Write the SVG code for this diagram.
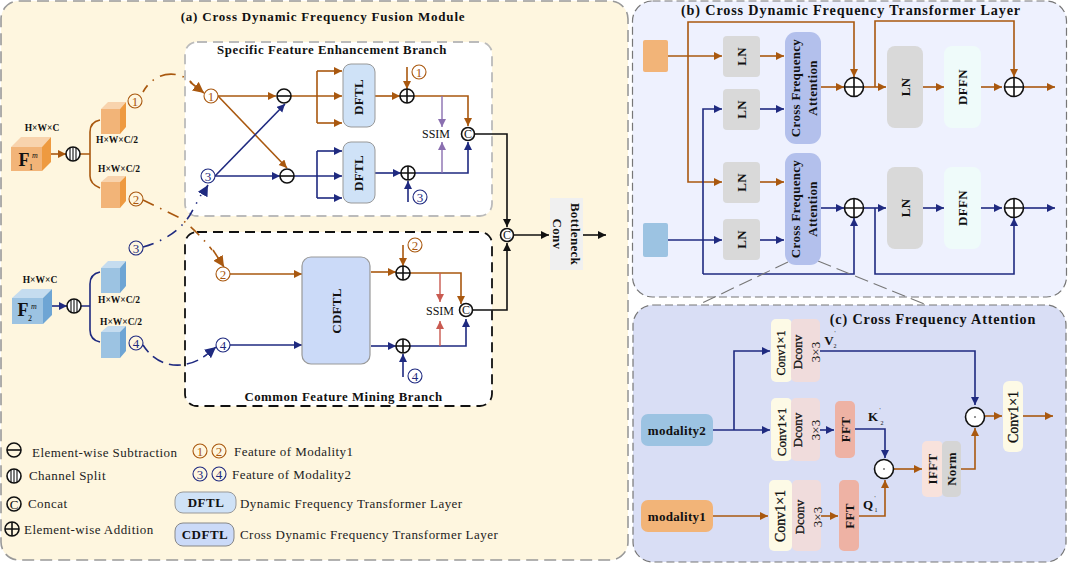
<svg xmlns="http://www.w3.org/2000/svg" width="1068" height="563" viewBox="0 0 1068 563">
<style>
text{font-family:"Liberation Serif","Times New Roman",serif;fill:#111;text-anchor:middle;dominant-baseline:central}
.b{font-weight:bold}.t{font-size:13px;font-weight:bold;letter-spacing:.8px}.t2{font-size:14.2px;font-weight:bold;letter-spacing:.85px}.t3{font-size:12.8px;font-weight:bold;letter-spacing:.55px}
.l{font-size:13px;text-anchor:start;letter-spacing:.45px;fill:#222}
.d{font-size:9.5px;font-weight:bold}
.or{fill:none;stroke:#a9580f;stroke-width:1.6;marker-end:url(#ao)}
.nv{fill:none;stroke:#1f2a80;stroke-width:1.6;marker-end:url(#an)}
.orl{fill:none;stroke:#a9580f;stroke-width:1.6}.nvl{fill:none;stroke:#1f2a80;stroke-width:1.6}
.bk{fill:none;stroke:#111;stroke-width:1.6;marker-end:url(#ak)}
.pu{fill:none;stroke:#8a6fb0;stroke-width:1.4;marker-end:url(#ap)}
.re{fill:none;stroke:#c95a50;stroke-width:1.4;marker-end:url(#ar)}
.dd{stroke-dasharray:16 7 1.5 7;stroke-dashoffset:8}
.op{fill:#fff;stroke:#111;stroke-width:1.6}.opl{stroke:#111;stroke-width:1.6;fill:none}
.co{fill:none;stroke:#a9580f;stroke-width:1.1}.cn{fill:none;stroke:#1f2a80;stroke-width:1.1}
.no{font-size:13px;fill:#a9580f}.nn{font-size:13px;fill:#1f2a80}
.ln{fill:#d9d9d9}.cfa{fill:#b3c0ec}.dffn{fill:#effbfa}.y{fill:#fdfae6}.p{fill:#f0dcdc}.f{fill:#eeb2a4}
.rt{font-size:13px;font-weight:bold;letter-spacing:.3px}
.rn{font-size:13px;stroke:#111;stroke-width:.3}
.nr{font-size:13px}
</style>
<defs>
<marker id="ao" markerUnits="userSpaceOnUse" markerWidth="10" markerHeight="10" refX="8" refY="4" orient="auto"><path d="M0,0L8,4L0,8z" fill="#a9580f"/></marker>
<marker id="an" markerUnits="userSpaceOnUse" markerWidth="10" markerHeight="10" refX="8" refY="4" orient="auto"><path d="M0,0L8,4L0,8z" fill="#1f2a80"/></marker>
<marker id="ak" markerUnits="userSpaceOnUse" markerWidth="10" markerHeight="10" refX="8" refY="4" orient="auto"><path d="M0,0L8,4L0,8z" fill="#111"/></marker>
<marker id="ap" markerUnits="userSpaceOnUse" markerWidth="10" markerHeight="10" refX="8" refY="4" orient="auto"><path d="M0,0L8,4L0,8z" fill="#8a6fb0"/></marker>
<marker id="ar" markerUnits="userSpaceOnUse" markerWidth="10" markerHeight="10" refX="8" refY="4" orient="auto"><path d="M0,0L8,4L0,8z" fill="#c95a50"/></marker>
<marker id="aob" markerUnits="userSpaceOnUse" markerWidth="14" markerHeight="14" refX="11" refY="5.5" orient="auto"><path d="M0,0L11,5.5L0,11z" fill="#a9580f"/></marker>
<marker id="anb" markerUnits="userSpaceOnUse" markerWidth="14" markerHeight="14" refX="11" refY="5.5" orient="auto"><path d="M0,0L11,5.5L0,11z" fill="#1f2a80"/></marker>
<g id="splitSym"><circle r="7" class="op"/><path d="M-3,-6.3V6.3M0,-7V7M3,-6.3V6.3" class="opl" style="stroke-width:1.1"/></g>
<g id="minusSym"><circle r="7" class="op" style="fill:none"/><path d="M-7,0H7" class="opl"/></g>
<g id="plusSym"><circle r="7" class="op" style="fill:none"/><path d="M-7,0H7M0,-7V7" class="opl"/></g>
<g id="bigPlus"><circle r="9.5" class="op"/><path d="M-9.500,0H9.500M0,-9.500V9.500" class="opl"/></g>
<g id="dotSym"><circle r="9.5" class="op"/><circle r=".8" fill="#111"/></g>
</defs>

<g id="panels">
<rect id="panel-a" x="1" y="1" width="627" height="559" rx="18" fill="#fef6df" stroke="#999" stroke-width="1.6" stroke-dasharray="12 6"/>
<rect id="panel-b" x="632.500" y="1" width="434" height="296" rx="20" fill="#eef1fe" stroke="#777" stroke-width="1.2" stroke-dasharray="8 4"/>
<rect id="panel-c" x="633" y="305" width="433" height="257" rx="20" fill="#d9def5" stroke="#777" stroke-width="1.2" stroke-dasharray="8 4"/>
<rect id="branch-specific" x="185" y="42" width="307" height="174" rx="12" fill="#fff" stroke="#bbb" stroke-width="1.8" stroke-dasharray="10 6"/>
<rect id="branch-common" x="185" y="232" width="307" height="174" rx="12" fill="#fff" stroke="#111" stroke-width="1.8" stroke-dasharray="10 6"/>
<text x="323" y="16" class="t">(a) Cross Dynamic Frequency Fusion Module</text>
<text x="332" y="50" class="t3">Specific Feature Enhancement Branch</text>
<text x="343.500" y="397" class="t3">Common Feature Mining Branch</text>
<text x="851" y="10" class="t2">(b) Cross Dynamic Frequency Transformer Layer</text>
<text x="933" y="319" class="t2">(c) Cross Frequency Attention</text>
</g>

<g id="connectors">
<path class="orl" d="M80,154H90M100,120Q90,122 90,132V176Q90,184 100,188"/>
<path class="nvl" d="M81,306H90M100,272Q90,274 90,284V330Q90,340 100,342"/>
<path class="or" d="M51,154H66"/>
<path class="nv" d="M52,306H67"/>
<path class="orl dd" d="M143,92C155,70 180,70 192,83"/>
<path class="or" style="marker-end:url(#aob)" d="M190,82L204,93"/>
<path class="orl dd" style="stroke-dasharray:12 7 1.5 7;stroke-dashoffset:0" d="M143,200L180,218Q198,232 212,250"/>
<path class="or" style="marker-end:url(#aob)" d="M213,250L224,267"/>
<path class="nvl dd" style="stroke-dasharray:11 7 1.5 7;stroke-dashoffset:0" d="M143,247Q175,238 190,215L201,195"/>
<path class="nv" style="marker-end:url(#anb)" d="M203,194L208,185"/>
<path class="nvl" style="stroke-dasharray:12 6;stroke-dashoffset:3" d="M143,345C160,372 190,368 206,355"/>
<path class="nv" style="marker-end:url(#anb)" d="M205,356L216,347"/>

<path class="or" d="M218,96H276"/><path class="or" d="M291,96H342"/>
<path class="orl" d="M317,96V71M317,96V123"/><path class="or" d="M317,71H342"/><path class="or" d="M317,123H342"/>
<path class="or" d="M375,96H400"/><path class="or" d="M407,67V89"/>
<path class="or" d="M414,96H468V126"/>
<path class="or" d="M218,96L287,168"/>
<path class="nv" d="M215,176L285,104"/>
<path class="nv" d="M215,176H280"/><path class="nv" d="M294,176H342"/>
<path class="nvl" d="M317,176V151M317,176V198"/><path class="nv" d="M317,151H342"/><path class="nv" d="M317,198H342"/>
<path class="nv" d="M375,173H401"/><path class="nv" d="M408,202V181"/>
<path class="nv" d="M415,173H468V142"/>
<path class="pu" d="M442,96V127"/><path class="pu" d="M442,173V142"/>
<path class="bk" d="M475,134H507V227"/><path class="bk" d="M514,235H549"/><path class="bk" d="M583,235H606"/>

<path class="or" d="M230,274H302"/>
<path class="or" d="M371,272H396"/><path class="or" d="M403,245V266"/>
<path class="or" d="M410,273H461V304"/>
<path class="nv" d="M230,345H302"/>
<path class="nv" d="M371,346H396"/><path class="nv" d="M403,377V354"/>
<path class="nv" d="M410,346H466V319"/>
<path class="re" d="M440,273V302"/><path class="re" d="M440,346V321"/>
<path class="bk" d="M473,310H507V243"/>

<path class="or" d="M668,56H722"/>
<path class="or" d="M688,56V182H722"/>
<path class="or" d="M688,56V22H854V77"/>
<path class="or" d="M760,56H784"/><path class="nv" d="M760,109H784"/><path class="or" d="M760,182H784"/><path class="nv" d="M760,240H784"/>
<path class="or" d="M821,87H844"/><path class="or" d="M863,87H886"/>
<path class="or" d="M875,87V21H1014V77"/>
<path class="or" d="M923,87H944"/><path class="or" d="M981,87H1002"/><path class="or" d="M1024,87H1055"/>
<path class="nv" d="M668,240H722"/>
<path class="nv" d="M703,274V109H722"/>
<path class="nv" d="M703,274H854V218"/>
<path class="nv" d="M821,208H844"/><path class="nv" d="M863,208H886"/>
<path class="nv" d="M875,208V274H1014V218"/>
<path class="nv" d="M923,208H944"/><path class="nv" d="M981,208H1002"/><path class="nv" d="M1024,208H1055"/>
<path d="M788,262L698,305M818,261L927,305" fill="none" stroke="#777" stroke-width="1.1" stroke-dasharray="14 6"/>

<path class="nv" d="M713,430H770"/>
<path class="nv" d="M734,430V351H770"/>
<path class="nv" d="M820,351H975V405"/>
<path class="nv" d="M820,430H834"/>
<path class="nv" d="M855,429H885V458"/>
<path class="or" d="M713,516H768"/><path class="or" d="M821,516H838"/>
<path class="or" d="M859,516H885V480"/>
<path class="or" d="M894,469H922"/>
<path class="or" d="M961,469H975V428"/>
<path class="or" d="M985,416H1002"/><path class="or" d="M1023,416H1053"/>
</g>

<g id="cube-f1"><path d="M11,147H42V171H11z" fill="#f2b478"/><path d="M11,147L21,137H51L42,147z" fill="#f8d3ad"/><path d="M42,147L51,137V162L42,171z" fill="#ee9a40"/>
<text x="24" y="160" class="b" style="font-size:18px">F</text><text x="31" y="167" style="font-size:8px">1</text><text x="35" y="155" style="font-size:8px;font-style:italic">m</text></g>
<g id="cube-f2"><path d="M12,298H43V324H12z" fill="#9cc3e2"/><path d="M12,298L22,289H52L43,298z" fill="#c5dcef"/><path d="M43,298L52,289V315L43,324z" fill="#6ea5d4"/>
<text x="23" y="310" class="b" style="font-size:18px">F</text><text x="30" y="318" style="font-size:8px">2</text><text x="34" y="306" style="font-size:8px;font-style:italic">m</text></g>
<g id="cube-o1"><path d="M101,109H120V134H101z" fill="#f2b478"/><path d="M101,109L108,102H126L120,109z" fill="#f8d3ad"/><path d="M120,109L126,102V127L120,134z" fill="#ee9a40"/></g>
<g id="cube-o2"><path d="M101,182H120V208H101z" fill="#f2b478"/><path d="M101,182L108,176H126L120,182z" fill="#f8d3ad"/><path d="M120,182L126,176V201L120,208z" fill="#ee9a40"/></g>
<g id="cube-b1"><path d="M101,268H120V293H101z" fill="#9cc3e2"/><path d="M101,268L108,261H126L120,268z" fill="#c5dcef"/><path d="M120,268L126,261V286L120,293z" fill="#6ea5d4"/></g>
<g id="cube-b2"><path d="M101,332H120V358H101z" fill="#9cc3e2"/><path d="M101,332L108,326H126L120,332z" fill="#c5dcef"/><path d="M120,332L126,326V351L120,358z" fill="#6ea5d4"/></g>
<g id="dims">
<text x="42" y="128" class="d">H×W×C</text><text x="117" y="140" class="d">H×W×C/2</text><text x="119" y="169" class="d">H×W×C/2</text>
<text x="40" y="280" class="d">H×W×C</text><text x="119" y="300" class="d">H×W×C/2</text><text x="121" y="322" class="d">H×W×C/2</text>
</g>
<use id="split-1" href="#splitSym" x="73" y="154"/><use id="split-2" href="#splitSym" x="74" y="306"/>

<g id="marks-modality">
<g><circle cx="135" cy="101" r="7" class="co"/><text x="135" y="101" class="no">1</text></g>
<g><circle cx="136" cy="199" r="7" class="co"/><text x="136" y="199" class="no">2</text></g>
<g><circle cx="136" cy="248" r="7" class="cn"/><text x="136" y="248" class="nn">3</text></g>
<g><circle cx="136" cy="343" r="7" class="cn"/><text x="136" y="343" class="nn">4</text></g>
<g><circle cx="211" cy="96" r="7" class="co" style="fill:#fff"/><text x="211" y="96" class="no">1</text></g>
<g><circle cx="208" cy="176" r="7" class="cn" style="fill:#fff"/><text x="208" y="176" class="nn">3</text></g>
<g><circle cx="223" cy="274" r="7" class="co" style="fill:#fff"/><text x="223" y="274" class="no">2</text></g>
<g><circle cx="223" cy="345" r="7" class="cn" style="fill:#fff"/><text x="223" y="345" class="nn">4</text></g>
<g><circle cx="419" cy="72" r="7" class="co"/><text x="419" y="72" class="no">1</text></g>
<g><circle cx="420" cy="197" r="7" class="cn"/><text x="420" y="197" class="nn">3</text></g>
<g><circle cx="415" cy="245" r="7" class="co"/><text x="415" y="245" class="no">2</text></g>
<g><circle cx="415" cy="376" r="7" class="cn"/><text x="415" y="376" class="nn">4</text></g>
</g>

<g id="sub-1"><use href="#minusSym" x="284" y="96"/></g>
<g id="sub-2"><use href="#minusSym" x="287" y="176"/></g>
<g id="add-1"><use href="#plusSym" x="407" y="96"/></g>
<g id="add-2"><use href="#plusSym" x="408" y="173"/></g>
<g id="add-3"><use href="#plusSym" x="403" y="273"/></g>
<g id="add-4"><use href="#plusSym" x="403" y="346"/></g>
<g id="dftl-1"><rect x="343" y="64" width="32" height="63" rx="8" fill="#cfe2f7" stroke="#999"/><text transform="translate(358.500 97) rotate(-90)" class="rt">DFTL</text></g>
<g id="dftl-2"><rect x="343" y="142" width="32" height="61" rx="8" fill="#cfe2f7" stroke="#999"/><text transform="translate(358.500 173) rotate(-90)" class="rt">DFTL</text></g>
<g id="cdftl"><rect x="302" y="257" width="68" height="107" rx="9" fill="#cbdaf8" stroke="#999" stroke-width="1.2"/><text transform="translate(336 311) rotate(-90)" class="rt">CDFTL</text></g>
<text x="436" y="134" style="font-size:12px">SSIM</text>
<text x="440" y="311" style="font-size:12px">SSIM</text>
<g id="concat-1"><circle cx="468" cy="134" r="6.500" class="op"/><text x="468" y="134" style="font-size:12px">C</text></g>
<g id="concat-2"><circle cx="466" cy="310" r="6.500" class="op"/><text x="466" y="310" style="font-size:12px">C</text></g>
<g id="concat-3"><circle cx="507" cy="235" r="6.500" class="op"/><text x="507" y="235" style="font-size:12px">C</text></g>
<g id="bottleneck"><rect x="550" y="198" width="33" height="72" fill="#f0f0f0"/><text transform="translate(575 234) rotate(90)" class="rt">Bottleneck</text><text transform="translate(557 234) rotate(90)" class="rt">Conv</text></g>

<g id="legend">
<use href="#minusSym" x="14" y="450"/><text x="32" y="452" class="l">Element-wise Subtraction</text>
<use href="#splitSym" x="14" y="476"/><text x="29" y="475" class="l">Channel Split</text>
<g><circle cx="14" cy="504" r="7" class="op" style="fill:none"/><text x="14" y="504" style="font-size:13px">C</text></g><text x="28" y="503" class="l">Concat</text>
<use href="#plusSym" x="12" y="529"/><text x="24" y="529" class="l">Element-wise Addition</text>
<g><circle cx="200" cy="451" r="7" class="co"/><text x="200" y="451" class="no">1</text></g>
<g><circle cx="219" cy="451" r="7" class="co"/><text x="219" y="451" class="no">2</text></g>
<g><circle cx="200" cy="474" r="7" class="cn"/><text x="200" y="474" class="nn">3</text></g>
<g><circle cx="219" cy="474" r="7" class="cn"/><text x="219" y="474" class="nn">4</text></g>
<text x="234" y="451" class="l">Feature of Modality1</text>
<text x="232" y="474" class="l">Feature of Modality2</text>
<rect x="175" y="492" width="61" height="21" rx="8" fill="#cfe2f7" stroke="#999"/><text x="206" y="502" class="b" style="font-size:13px;letter-spacing:.5px">DFTL</text>
<text x="240" y="503" class="l">Dynamic Frequency Transformer Layer</text>
<rect x="175" y="523" width="59" height="23" rx="8" fill="#cbdaf8" stroke="#888"/><text x="205" y="534" class="b" style="font-size:13px;letter-spacing:.5px">CDFTL</text>
<text x="240" y="534" class="l">Cross Dynamic Frequency Transformer Layer</text>
</g>

<g id="layer-b">
<rect id="in-orange" x="643" y="40" width="25" height="32" rx="2" fill="#f2b478"/>
<rect id="in-blue" x="643" y="223" width="25" height="34" rx="2" fill="#9cc3e2"/>
<g id="ln-1"><rect x="723" y="36" width="37" height="41" rx="4" class="ln"/><text transform="translate(741.500 56.500) rotate(-90)" class="rt">LN</text></g>
<g id="ln-2"><rect x="723" y="89" width="37" height="41" rx="4" class="ln"/><text transform="translate(741.500 109.500) rotate(-90)" class="rt">LN</text></g>
<g id="ln-3"><rect x="723" y="162" width="37" height="41" rx="4" class="ln"/><text transform="translate(741.500 182.500) rotate(-90)" class="rt">LN</text></g>
<g id="ln-4"><rect x="723" y="219" width="37" height="41" rx="4" class="ln"/><text transform="translate(741.500 239.500) rotate(-90)" class="rt">LN</text></g>
<g id="cfa-1"><rect x="785" y="32" width="36" height="112" rx="11" class="cfa"/><text transform="translate(795 88) rotate(-90)" class="rt">Cross Frequency</text><text transform="translate(812 88) rotate(-90)" class="rt">Attention</text></g>
<g id="cfa-2"><rect x="785" y="153" width="36" height="112" rx="11" class="cfa"/><text transform="translate(795 209) rotate(-90)" class="rt">Cross Frequency</text><text transform="translate(812 209) rotate(-90)" class="rt">Attention</text></g>
<g id="ln-5"><rect x="887" y="46" width="36" height="82" rx="8" class="ln"/><text transform="translate(905 87) rotate(-90)" class="rt">LN</text></g>
<g id="ln-6"><rect x="887" y="167" width="36" height="82" rx="8" class="ln"/><text transform="translate(905 208) rotate(-90)" class="rt">LN</text></g>
<g id="dffn-1"><rect x="944" y="46" width="37" height="82" rx="8" class="dffn"/><text transform="translate(962.500 87) rotate(-90)" class="rt">DFFN</text></g>
<g id="dffn-2"><rect x="944" y="167" width="37" height="82" rx="8" class="dffn"/><text transform="translate(962.500 208) rotate(-90)" class="rt">DFFN</text></g>
<use href="#bigPlus" x="854" y="87"/><use href="#bigPlus" x="1014" y="87"/><use href="#bigPlus" x="854" y="208"/><use href="#bigPlus" x="1014" y="208"/>
</g>

<g id="layer-c">
<g id="modality2"><rect x="641" y="414" width="72" height="32" rx="7" fill="#9cc3e2"/><text x="677" y="430" class="rt">modality2</text></g>
<g id="modality1"><rect x="641" y="500" width="72" height="32" rx="7" fill="#f2b478"/><text x="677" y="516" class="rt">modality1</text></g>
<g id="conv-a"><rect x="771" y="319" width="21" height="63" rx="5" class="y"/><text transform="translate(781 353) rotate(-90)" class="rn" style="font-size:12px">Conv1×1</text></g>
<g id="dconv-a"><rect x="791" y="319" width="29" height="63" rx="5" class="p"/><text transform="translate(797 352) rotate(-90)" class="rn">Dconv</text><text transform="translate(815 352) rotate(-90)" class="nr">3×3</text></g>
<g id="conv-b"><rect x="771" y="398" width="21" height="63" rx="5" class="y"/><text transform="translate(781 432) rotate(-90)" class="rn">Conv1×1</text></g>
<g id="dconv-b"><rect x="791" y="398" width="29" height="63" rx="5" class="p"/><text transform="translate(797 430) rotate(-90)" class="rn">Dconv</text><text transform="translate(815 430) rotate(-90)" class="nr">3×3</text></g>
<g id="fft-b"><rect x="835" y="401" width="20" height="57" rx="5" class="f"/><text transform="translate(845 429.500) rotate(-90)" class="rt">FFT</text></g>
<g id="conv-c"><rect x="769" y="480" width="23" height="71" rx="5" class="y"/><text transform="translate(780 516) rotate(-90)" class="rn" style="font-size:14px">Conv1×1</text></g>
<g id="dconv-c"><rect x="792" y="480" width="29" height="71" rx="5" class="p"/><text transform="translate(799 517) rotate(-90)" class="rn">Dconv</text><text transform="translate(817 517) rotate(-90)" class="nr">3×3</text></g>
<g id="fft-c"><rect x="839" y="480" width="20" height="71" rx="5" class="f"/><text transform="translate(849 516) rotate(-90)" class="rt">FFT</text></g>
<g id="ifft"><rect x="922" y="441" width="21" height="56" rx="5" fill="#f8e2dc"/><text transform="translate(932.500 469) rotate(-90)" class="rt">IFFT</text></g>
<g id="norm"><rect x="942" y="441" width="19" height="56" rx="5" fill="#d5d5d5"/><text transform="translate(951.500 469) rotate(-90)" class="rt">Norm</text></g>
<g id="conv-d"><rect x="1003" y="381" width="20" height="71" rx="6" class="y"/><text transform="translate(1013 417) rotate(-90)" class="rn" style="font-size:14px">Conv1×1</text></g>
<use href="#dotSym" x="975" y="417"/><use href="#dotSym" x="884" y="469"/>
<text x="829" y="340" class="b" style="font-size:13px">V</text><text x="835" y="346" style="font-size:6px">2</text><text x="835" y="333" style="font-size:6px">'</text>
<text x="873" y="416" class="b" style="font-size:13px">K</text><text x="882" y="423" style="font-size:6px">2</text><text x="880" y="410" style="font-size:6px">'</text>
<text x="868" y="504" class="b" style="font-size:13px">Q</text><text x="876" y="510" style="font-size:6px">1</text><text x="875" y="498" style="font-size:6px">'</text>
</g>
</svg>
